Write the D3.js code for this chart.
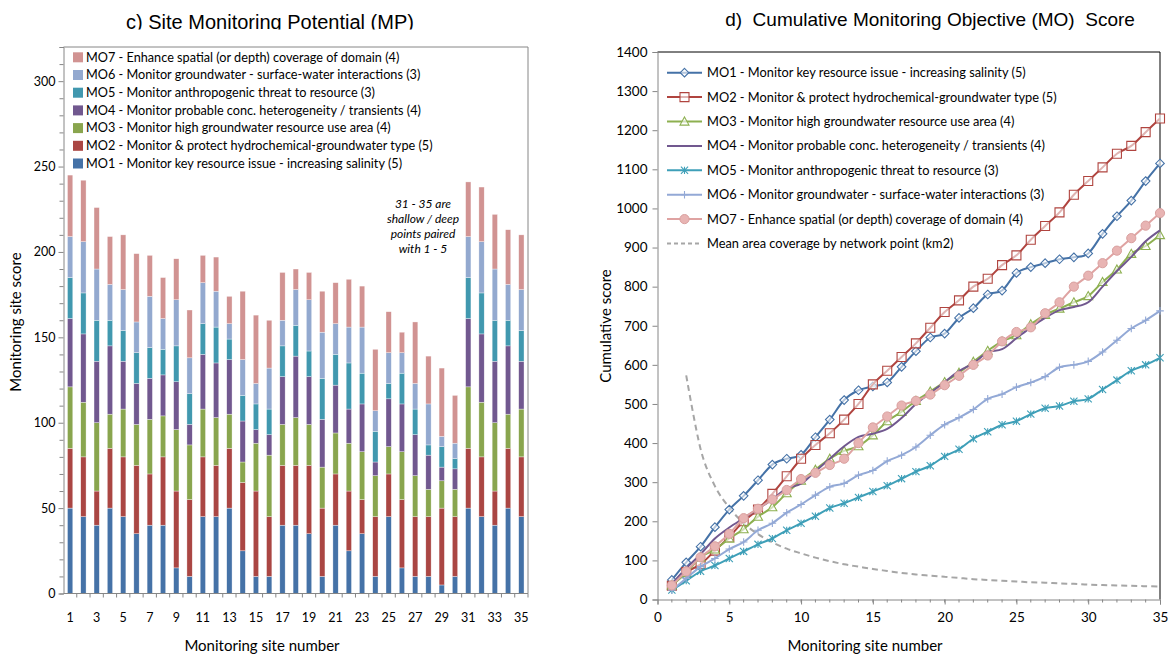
<!DOCTYPE html>
<html>
<head>
<meta charset="utf-8">
<script src="https://cdn.jsdelivr.net/npm/d3@7"></script>
<style>
body { margin: 0; background: #fff; }
svg text { font-family: Lato, "Open Sans", sans-serif; fill: #000; }
</style>
</head>
<body>
<svg id="chart" width="1176" height="659"></svg>
<script>

// ---- data ----
var sites = [1,2,3,4,5,6,7,8,9,10,11,12,13,14,15,16,17,18,19,20,21,22,23,24,25,26,27,28,29,30,31,32,33,34,35];

var moNames = [
    "MO1 - Monitor key resource issue - increasing salinity (5)",
    "MO2 - Monitor & protect hydrochemical-groundwater type (5)",
    "MO3 - Monitor high groundwater resource use area (4)",
    "MO4 - Monitor probable conc. heterogeneity / transients (4)",
    "MO5 - Monitor anthropogenic threat to resource (3)",
    "MO6 - Monitor groundwater - surface-water interactions (3)",
    "MO7 - Enhance spatial (or depth) coverage of domain (4)"
];
var meanName = "Mean area coverage by network point (km2)";

var mo1 = [50,45,40,50,45,35,40,40,15,10,45,45,50,25,10,10,40,40,35,10,40,25,35,10,45,15,10,10,5,10,50,45,40,50,45];
var mo2 = [35,35,20,35,35,40,30,40,45,45,35,30,35,40,50,35,35,35,40,40,30,35,20,35,25,40,35,35,45,35,35,35,20,35,35];
var mo3 = [36,32,40,20,28,24,32,24,36,32,28,28,20,12,28,36,24,28,24,24,24,28,28,24,16,28,24,16,16,16,36,32,40,20,28];
var mo4 = [40,40,36,40,28,24,24,24,28,12,32,32,32,24,8,12,28,36,28,28,28,20,28,8,28,28,24,20,8,12,40,40,36,40,28];
var mo5 = [24,24,24,15,18,18,18,15,21,18,18,21,12,15,15,15,18,18,15,24,18,27,18,18,9,18,15,6,12,6,24,24,24,15,18];
var mo6 = [24,30,30,21,24,18,30,18,27,21,24,21,9,21,12,24,15,21,30,27,18,21,27,12,18,12,15,24,6,9,24,30,30,21,24];
var mo7 = [36,36,36,28,32,40,24,24,24,28,16,20,16,40,40,28,28,12,16,24,24,28,24,36,24,12,36,28,40,28,32,32,32,32,32];

// mean area coverage (km2), no value for site 1
var meanArea = [null,573,385,290,235,195,167,146,130,118,107,98,90,84,78,73,68,64,61,58,55,52,50,48,46,44,43,41,40,38,37,36,35,34,33];

var leftTicks = [0,50,100,150,200,250,300];
var rightTicks = [0,100,200,300,400,500,600,700,800,900,1000,1100,1200,1300,1400];
var rightXTicks = [0,5,10,15,20,25,30,35];

var moSeries = [mo1, mo2, mo3, mo4, mo5, mo6, mo7];

// ---- styles ----
var BAR_COLORS = ["#4572A7","#AA4643","#89A54E","#71588F","#4198AF","#93A9CF","#D19392"];
var LINE_COLORS = ["#4572A7","#B0443F","#8DB050","#71588F","#3E9FB8","#93A9D6","#DFA3A2"];
var MARKERS = ["diamond","square","triangle",null,"star","plus","circle"];
var AXIS_GREY = "#868686";

var svg = d3.select("#chart");

/* =================== c) stacked bars =================== */

var L = {left: 63.5, right: 528, top: 47, bottom: 593.5};

var xBand = d3.scaleBand()
    .domain(sites)
    .range([L.left, L.right])
    .paddingInner(0.6)
    .paddingOuter(0.3);

var yLeft = d3.scaleLinear().domain([0, 320]).range([L.bottom, L.top]);

var rows = sites.map(function(s, i){
    var r = {site: s};
    moSeries.forEach(function(arr, k){ r["mo" + (k + 1)] = arr[i]; });
    return r;
});
var keys = ["mo1","mo2","mo3","mo4","mo5","mo6","mo7"];
var stacked = d3.stack().keys(keys)(rows);

var left = svg.append("g");

left.selectAll("g.layer")
    .data(stacked)
    .enter()
    .append("g")
    .attr("class", "layer")
    .attr("fill", function(d, i){ return BAR_COLORS[i]; })
    .selectAll("rect")
    .data(function(d){ return d; })
    .enter()
    .append("rect")
    .attr("x", function(d){ return xBand(d.data.site); })
    .attr("y", function(d){ return yLeft(d[1]); })
    .attr("width", xBand.bandwidth())
    .attr("height", function(d){ return yLeft(d[0]) - yLeft(d[1]); })
    .attr("stroke", "#fff")
    .attr("stroke-width", 0.5)
    .attr("stroke-opacity", 0.7);

// plot border (top, right)
left.append("path")
    .attr("d", "M" + L.left + "," + L.top + "H" + L.right + "V" + L.bottom)
    .attr("fill", "none")
    .attr("stroke", AXIS_GREY);

// y axis
var yAxisL = d3.axisLeft(yLeft)
    .tickValues(d3.range(0, 321, 10))
    .tickSize(4)
    .tickFormat(function(d){ return leftTicks.indexOf(d) >= 0 ? d : ""; });
var gyl = left.append("g")
    .attr("transform", "translate(" + L.left + ",0)")
    .call(yAxisL);
gyl.select(".domain").attr("stroke", AXIS_GREY);
gyl.selectAll(".tick line").attr("stroke", AXIS_GREY)
    .attr("x2", function(d){ return leftTicks.indexOf(d) >= 0 ? -5 : -4; });
gyl.selectAll(".tick text")
    .attr("x", -8)
    .style("font-size", "12.5px")
    .style("font-family", "Lato, sans-serif");

// x axis: ticks between categories
var gxl = left.append("g");
gxl.append("line")
    .attr("x1", L.left).attr("x2", L.right)
    .attr("y1", L.bottom).attr("y2", L.bottom)
    .attr("stroke", AXIS_GREY);
gxl.selectAll("line.tk")
    .data(sites)
    .enter()
    .append("line")
    .attr("class", "tk")
    .attr("x1", function(d){ return xBand(d) - xBand.step() * xBand.paddingInner() / 2 + xBand.step(); })
    .attr("x2", function(d){ return xBand(d) - xBand.step() * xBand.paddingInner() / 2 + xBand.step(); })
    .attr("y1", L.bottom).attr("y2", L.bottom + 4)
    .attr("stroke", AXIS_GREY);
gxl.selectAll("text")
    .data(sites.filter(function(d){ return d % 2 === 1; }))
    .enter()
    .append("text")
    .attr("x", function(d){ return xBand(d) + xBand.bandwidth() / 2; })
    .attr("y", 622)
    .attr("text-anchor", "middle")
    .style("font-size", "12.5px")
    .text(function(d){ return d; });

// axis titles
left.append("text")
    .attr("transform", "translate(21,322) rotate(-90)")
    .attr("text-anchor", "middle")
    .style("font-size", "15px")
    .text("Monitoring site score");
left.append("text")
    .attr("x", 262).attr("y", 651)
    .attr("text-anchor", "middle")
    .style("font-size", "15px")
    .text("Monitoring site number");

// legend (MO7 on top)
var legL = left.append("g");
var legRows = d3.range(6, -1, -1);
legL.selectAll("rect")
    .data(legRows)
    .enter()
    .append("rect")
    .attr("x", 73).attr("width", 10).attr("height", 10)
    .attr("y", function(d, i){ return 52.3 + i * 17.7; })
    .attr("fill", function(d){ return BAR_COLORS[d]; });
legL.selectAll("text")
    .data(legRows)
    .enter()
    .append("text")
    .attr("x", 86)
    .attr("y", function(d, i){ return 61.6 + i * 17.7; })
    .style("font-size", "12.7px")
    .text(function(d){ return moNames[d]; });

// note
var note = ["31 - 35 are", "shallow / deep", "points paired", "with 1 - 5"];
left.selectAll("text.note")
    .data(note)
    .enter()
    .append("text")
    .attr("class", "note")
    .attr("x", 423)
    .attr("y", function(d, i){ return 208 + i * 15; })
    .attr("text-anchor", "middle")
    .style("font-size", "12px")
    .style("font-style", "italic")
    .text(function(d){ return d; });

// title (its lower edge is cut off in the original)
svg.append("clipPath").attr("id", "titleClip")
    .append("rect").attr("x", 0).attr("y", 0).attr("width", 600).attr("height", 29.5);
svg.append("text")
    .attr("clip-path", "url(#titleClip)")
    .attr("x", 270).attr("y", 29)
    .attr("text-anchor", "middle")
    .style("font-family", "'Liberation Sans', Arial, sans-serif")
    .style("font-size", "20px")
    .text("c) Site Monitoring Potential (MP)");

/* =================== d) cumulative lines =================== */

var R = {left: 657.5, right: 1160, top: 52, bottom: 599.5};

var xR = d3.scaleLinear().domain([0, 35]).range([R.left, R.right]);
var yR = d3.scaleLinear().domain([0, 1400]).range([R.bottom, R.top]);

var right = svg.append("g");

right.append("path")
    .attr("d", "M" + R.left + "," + R.top + "H" + R.right + "V" + R.bottom)
    .attr("fill", "none")
    .attr("stroke", "#000");

var gyr = right.append("g")
    .attr("transform", "translate(" + R.left + ",0)")
    .call(d3.axisLeft(yR).tickValues(rightTicks).tickSize(5).tickFormat(d3.format("d")));
gyr.select(".domain").attr("stroke", AXIS_GREY);
gyr.selectAll(".tick line").attr("stroke", AXIS_GREY);
gyr.selectAll(".tick text")
    .attr("x", -10)
    .style("font-size", "13.5px")
    .style("font-family", "Lato, sans-serif");

var gxr = right.append("g")
    .attr("transform", "translate(0," + R.bottom + ")")
    .call(d3.axisBottom(xR).tickValues(rightXTicks).tickSize(5));
gxr.select(".domain").attr("stroke", AXIS_GREY);
gxr.selectAll(".tick line").attr("stroke", AXIS_GREY);
gxr.selectAll(".tick text")
    .attr("y", 13)
    .style("font-size", "13.5px")
    .style("font-family", "Lato, sans-serif");
gxr.selectAll("line.minor")
    .data(d3.range(1, 35))
    .enter()
    .append("line")
    .attr("class", "minor")
    .attr("x1", function(d){ return xR(d); })
    .attr("x2", function(d){ return xR(d); })
    .attr("y1", 0).attr("y2", 3)
    .attr("stroke", AXIS_GREY);

right.append("text")
    .attr("transform", "translate(611,326) rotate(-90)")
    .attr("text-anchor", "middle")
    .style("font-size", "15px")
    .text("Cumulative score");
right.append("text")
    .attr("x", 865).attr("y", 651)
    .attr("text-anchor", "middle")
    .style("font-size", "15px")
    .text("Monitoring site number");

svg.append("text")
    .attr("x", 930).attr("y", 26)
    .attr("text-anchor", "middle")
    .style("font-family", "'Liberation Sans', Arial, sans-serif")
    .style("font-size", "19px")
    .style("white-space", "pre")
    .text("d)  Cumulative Monitoring Objective (MO)  Score");

function markerPath(type, s){
    if (type === "diamond") return "M0," + (-s) + "L" + s + ",0L0," + s + "L" + (-s) + ",0Z";
    if (type === "square") return "M" + (-s) + "," + (-s) + "H" + s + "V" + s + "H" + (-s) + "Z";
    if (type === "triangle") return "M0," + (-s) + "L" + s + "," + (s * 0.8) + "H" + (-s) + "Z";
    if (type === "star") return "M" + (-s) + "," + (-s) + "L" + s + "," + s + "M" + (-s) + "," + s + "L" + s + "," + (-s) + "M0," + (-s) + "V" + s;
    if (type === "plus") return "M" + (-s) + ",0H" + s + "M0," + (-s) + "V" + s;
    return null;
}

function drawMarker(g, type, color){
    if (type === "circle") {
        g.append("circle").attr("r", 4.6)
            .attr("fill", "#E8B4B3").attr("stroke", "#D9A09F").attr("stroke-width", 1);
    } else if (type) {
        var size = {diamond: 4.3, square: 4.5, triangle: 4.5, star: 3.6, plus: 3.8}[type];
        g.append("path").attr("d", markerPath(type, size))
            .attr("fill", (type === "star" || type === "plus") ? "none" : "#fff")
            .attr("fill-opacity", (type === "star" || type === "plus") ? 0 : 0.6)
            .attr("stroke", color)
            .attr("stroke-width", 1.1);
    }
}

var smooth = d3.line()
    .defined(function(d){ return d[1] != null; })
    .x(function(d){ return xR(d[0]); })
    .y(function(d){ return yR(d[1]); })
    .curve(d3.curveCardinal.tension(0));

// mean area coverage dashed curve
right.append("path")
    .datum(sites.map(function(s, i){ return [s, meanArea[i]]; }).filter(function(d){ return d[1] != null; }))
    .attr("d", smooth)
    .attr("fill", "none")
    .attr("stroke", "#A6A6A6")
    .attr("stroke-width", 2)
    .attr("stroke-dasharray", "6,4");

moSeries.forEach(function(arr, k){
    var cum = Array.from(d3.cumsum(arr));
    var pts = sites.map(function(s, i){ return [s, cum[i]]; });
    var g = right.append("g");
    g.append("path")
        .datum(pts)
        .attr("d", smooth)
        .attr("fill", "none")
        .attr("stroke", LINE_COLORS[k])
        .attr("stroke-width", 2);
    if (MARKERS[k]) {
        g.selectAll("g.mk")
            .data(pts)
            .enter()
            .append("g")
            .attr("class", "mk")
            .attr("transform", function(d){ return "translate(" + xR(d[0]) + "," + yR(d[1]) + ")"; })
            .each(function(){ drawMarker(d3.select(this), MARKERS[k], LINE_COLORS[k]); });
    }
});

// legend
var legR = right.append("g");
var legItems = moNames.concat([meanName]);
legItems.forEach(function(name, i){
    var y = 72.7 + i * 24.4;
    var row = legR.append("g");
    var ln = row.append("line")
        .attr("x1", 667).attr("x2", 702)
        .attr("y1", y).attr("y2", y)
        .attr("stroke-width", 2);
    if (i < 7) {
        ln.attr("stroke", LINE_COLORS[i]);
        drawMarker(row.append("g").attr("transform", "translate(684.5," + y + ")"), MARKERS[i], LINE_COLORS[i]);
    } else {
        ln.attr("stroke", "#A6A6A6").attr("stroke-dasharray", "4,3");
    }
    row.append("text")
        .attr("x", 707)
        .attr("y", y + 4.5)
        .style("font-size", "12.8px")
        .text(name);
});

</script>
</body>
</html>
